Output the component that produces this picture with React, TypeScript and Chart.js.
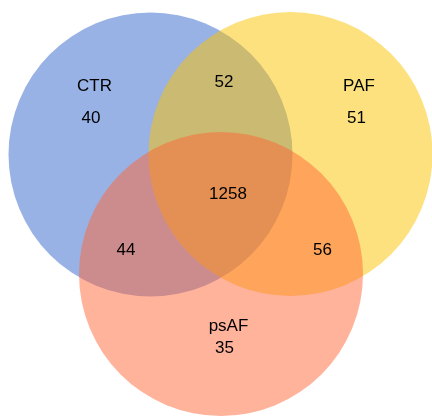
import React, { useEffect, useRef } from "react";
import { Chart, registerables } from "chart.js";

Chart.register(...registerables);

// Sets and counts
const setNames = ["CTR", "PAF", "psAF"];
const onlyCounts = [40, 51, 35];
const pairLabels = ["CTR∩PAF", "CTR∩psAF", "PAF∩psAF"];
const pairCounts = [52, 44, 56];
const allCount = 1258;

// Venn layout (in diagram units)
const circleX = [150.5, 290.5, 221];
const circleY = [154.5, 154, 274];
const circleR = 142;
const setColors = ["rgba(51,102,204,0.5)", "rgba(252,196,0,0.5)", "rgba(255,104,56,0.5)"];

// label anchors (baseline positions, diagram units)
const nameX = [94.5, 359, 228.5];
const nameY = [90.7, 90.7, 331];
const onlyX = [91, 356.5, 224.5];
const onlyY = [122.7, 122.7, 352.7];
const pairX = [224, 126, 322.5];
const pairY = [86.7, 255.3, 255.3];
const allX = 228;
const allY = 199.3;

const W = 432;
const H = 416;

const labelPlugin = {
  id: "vennLabels",
  afterDatasetsDraw(chart: any) {
    const { ctx, scales } = chart;
    const sx = scales.x;
    const sy = scales.y;
    ctx.save();
    ctx.fillStyle = "#000";
    ctx.font = "17px 'Liberation Sans', Arial, sans-serif";
    ctx.textAlign = "center";
    ctx.textBaseline = "alphabetic";
    const put = (t: string, x: number, y: number) =>
      ctx.fillText(t, sx.getPixelForValue(x), sy.getPixelForValue(y));
    setNames.forEach((n, i) => put(n, nameX[i], nameY[i]));
    onlyCounts.forEach((c, i) => put(String(c), onlyX[i], onlyY[i]));
    pairCounts.forEach((c, i) => put(String(c), pairX[i], pairY[i]));
    put(String(allCount), allX, allY);
    ctx.restore();
  },
};

export default function App() {
  const ref = useRef<HTMLCanvasElement | null>(null);
  useEffect(() => {
    document.body.style.margin = "0";
    const canvas = ref.current!;
    const chart = new Chart(canvas, {
      type: "bubble",
      data: {
        datasets: setNames.map((name, i) => ({
          label: name,
          data: [{ x: circleX[i], y: circleY[i], r: circleR }],
          backgroundColor: setColors[i],
          hoverBackgroundColor: setColors[i],
          borderWidth: 0,
          hoverBorderWidth: 0,
          hoverRadius: 0,
          clip: false as any,
          order: -i,
        })) as any,
      },
      options: {
        animation: false,
        responsive: false,
        devicePixelRatio: 1,
        events: [],
        layout: { padding: 0, autoPadding: false } as any,
        plugins: {
          legend: { display: false },
          tooltip: { enabled: false },
          title: { display: false },
        },
        scales: {
          x: { type: "linear", min: 0, max: W, display: false },
          y: { type: "linear", min: 0, max: H, reverse: true, display: false },
        },
      },
      plugins: [labelPlugin],
    });
    return () => chart.destroy();
  }, []);
  return (
    <div style={{ width: W, height: H, background: "#fff" }}>
      <canvas ref={ref} width={W} height={H} style={{ display: "block" }} />
    </div>
  );
}
